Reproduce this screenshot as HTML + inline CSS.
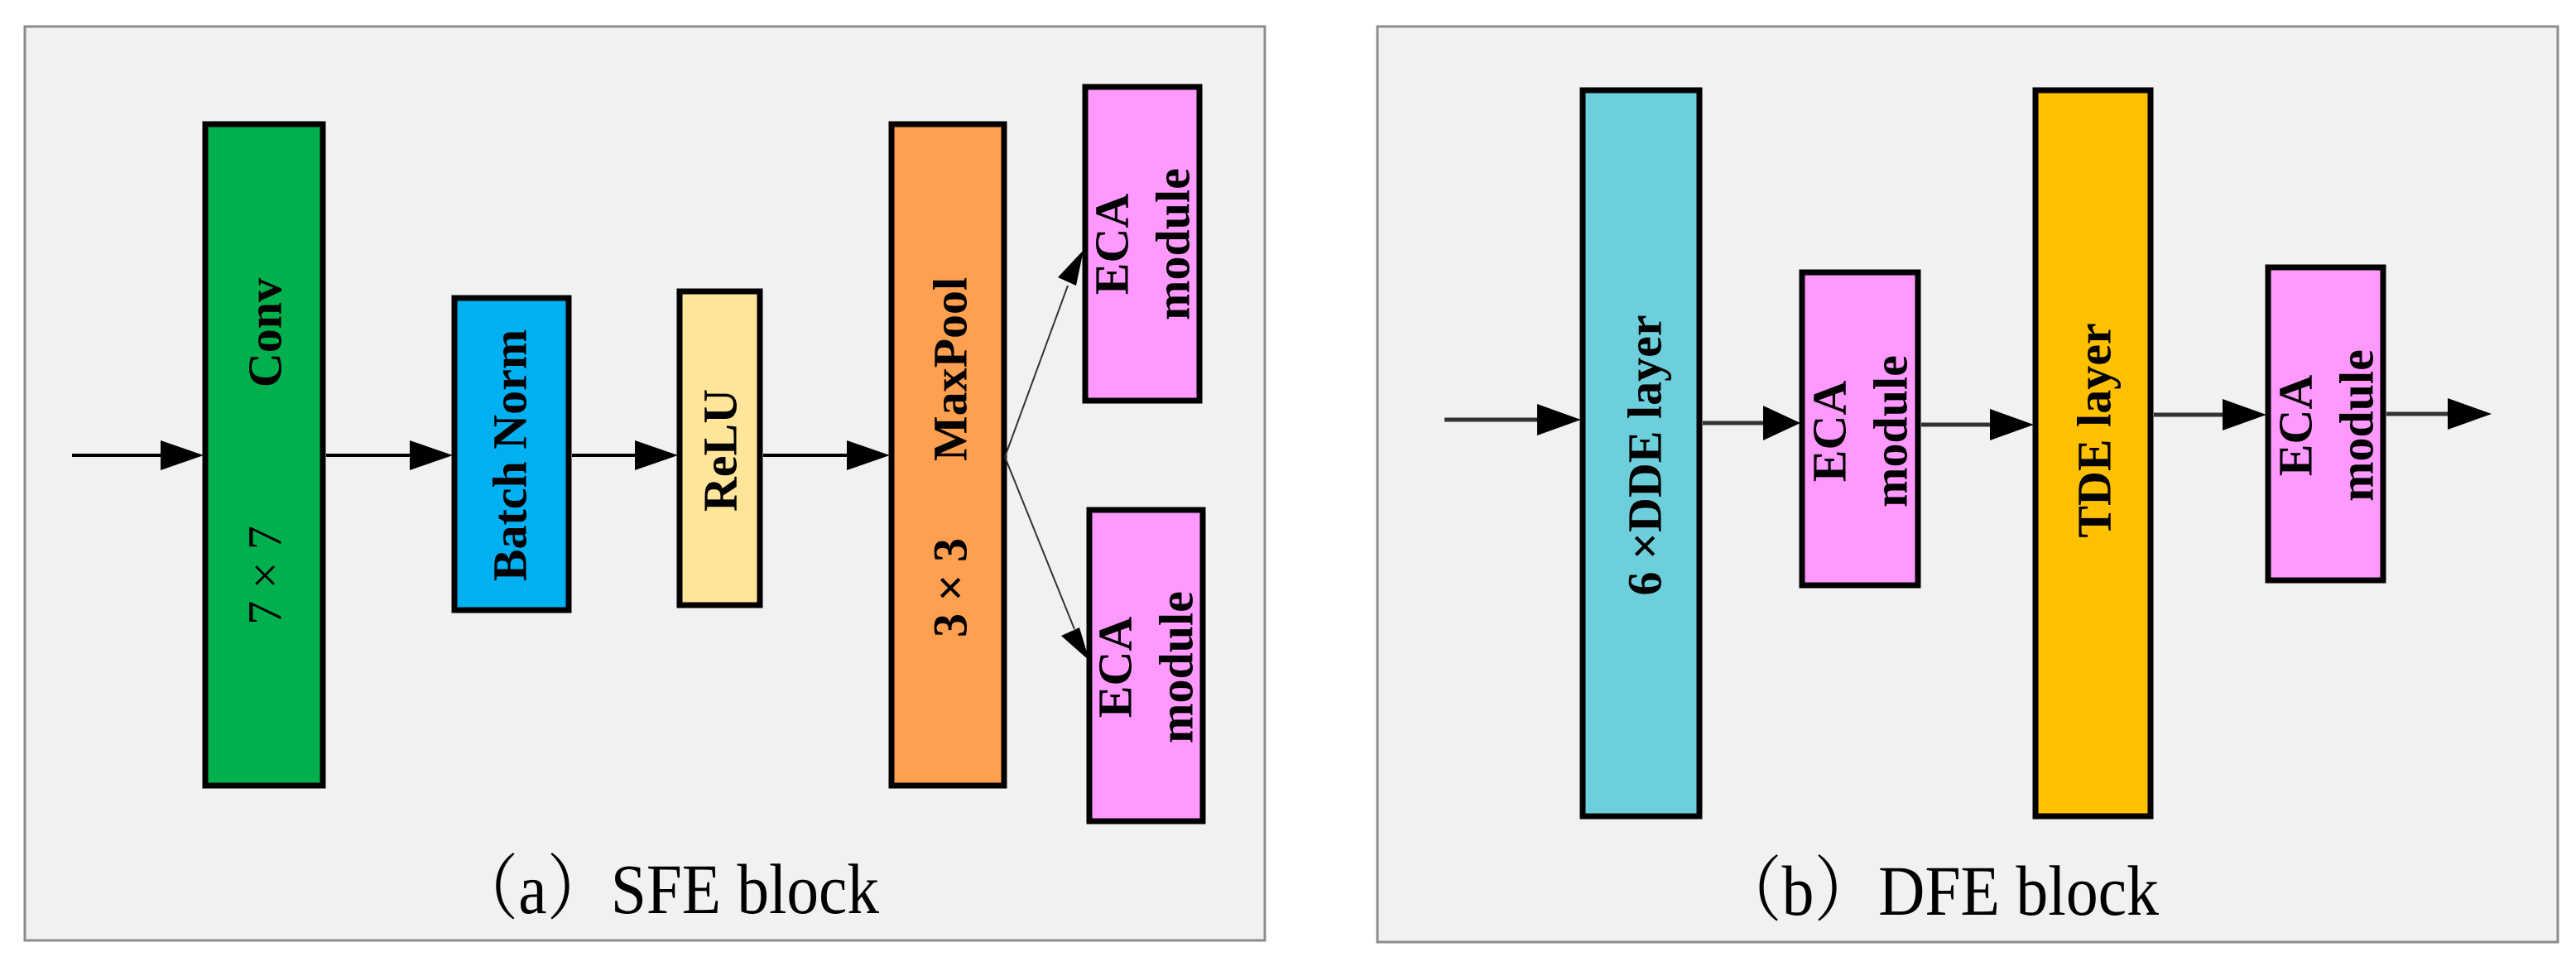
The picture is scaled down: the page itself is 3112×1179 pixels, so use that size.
<!DOCTYPE html>
<html><head><meta charset="utf-8"><style>
html,body{margin:0;padding:0;background:#fff;}
svg{display:block;}
text{font-family:"Liberation Serif","Noto Serif CJK SC",serif;fill:#000;}
.b{font-weight:bold;font-size:58px;}
.cap{font-size:86px;}
</style></head><body>
<svg width="3112" height="1179" viewBox="0 0 3112 1179" xmlns="http://www.w3.org/2000/svg">
<rect x="0" y="0" width="3112" height="1179" fill="#fff"/>
<!-- panels -->
<rect x="30" y="32" width="1498" height="1104" fill="#f1f1f1" stroke="#8c8c8c" stroke-width="3"/>
<rect x="1664" y="32" width="1426" height="1106" fill="#f1f1f1" stroke="#8c8c8c" stroke-width="3"/>

<g stroke="#000" stroke-width="7">
<rect x="248" y="150" width="142" height="799" fill="#00b04c"/>
<rect x="549" y="360" width="138" height="377" fill="#00b0f0"/>
<rect x="821" y="352" width="97" height="379" fill="#ffe59a"/>
<rect x="1077" y="150" width="136" height="799" fill="#ffa050"/>
<rect x="1311" y="105" width="138" height="379" fill="#ff99ff"/>
<rect x="1316" y="616" width="137" height="376" fill="#ff99ff"/>

<rect x="1912" y="109" width="141" height="877" fill="#6ecfdc"/>
<rect x="2177" y="329" width="140" height="378" fill="#ff99ff"/>
<rect x="2459" y="109" width="139" height="877" fill="#ffc000"/>
<rect x="2740" y="323" width="139" height="378" fill="#ff99ff"/>
</g>

<!-- panel a connectors -->
<g stroke="#000" stroke-width="4">
<line x1="87" y1="550" x2="200" y2="550"/>
<line x1="394" y1="550" x2="500" y2="550"/>
<line x1="691" y1="550" x2="775" y2="550"/>
<line x1="922" y1="550" x2="1030" y2="550"/>
</g>
<g fill="#000">
<polygon points="246,550 194,532 194,568"/>
<polygon points="547,550 495,532 495,568"/>
<polygon points="819,550 767,532 767,568"/>
<polygon points="1075,550 1023,532 1023,568"/>
</g>
<g stroke="#333" stroke-width="2" fill="none">
<line x1="1214" y1="552" x2="1290" y2="345"/>
<line x1="1214" y1="552" x2="1298" y2="760"/>
</g>
<polygon points="1309,302 1278,335 1300,345" fill="#000"/>
<polygon points="1316,798 1282,768 1304,758" fill="#000"/>

<!-- panel b connectors -->
<g stroke="#333" stroke-width="5">
<line x1="1745" y1="507" x2="1865" y2="507"/>
<line x1="2057" y1="511" x2="2130" y2="511"/>
<line x1="2321" y1="513" x2="2410" y2="513"/>
<line x1="2602" y1="501" x2="2693" y2="501"/>
<line x1="2883" y1="500" x2="2960" y2="500"/>
</g>
<g fill="#000">
<polygon points="1910,507 1857,488 1857,526"/>
<polygon points="2175,511 2130,490 2130,532"/>
<polygon points="2457,513 2404,494 2404,532"/>
<polygon points="2738,501 2685,482 2685,520"/>
<polygon points="3010,500 2957,481 2957,519"/>
</g>

<!-- panel a labels -->
<text class="b" transform="translate(320,402) rotate(-90)" text-anchor="middle" dominant-baseline="central">Conv</text>
<text class="b" style="font-weight:normal" transform="translate(320,695) rotate(-90)" text-anchor="middle" dominant-baseline="central">7 × 7</text>
<text class="b" transform="translate(616,550) rotate(-90)" text-anchor="middle" dominant-baseline="central">Batch Norm</text>
<text class="b" transform="translate(870,544) rotate(-90)" text-anchor="middle" dominant-baseline="central">ReLU</text>
<text class="b" transform="translate(1148,446) rotate(-90)" text-anchor="middle" dominant-baseline="central">MaxPool</text>
<text class="b" transform="translate(1148,710) rotate(-90)" text-anchor="middle" dominant-baseline="central">3 × 3</text>
<g transform="translate(1380,295) rotate(-90)"><text class="b" y="-37" text-anchor="middle" dominant-baseline="central">ECA</text><text class="b" y="37" text-anchor="middle" dominant-baseline="central">module</text></g>
<g transform="translate(1384,806) rotate(-90)"><text class="b" y="-37" text-anchor="middle" dominant-baseline="central">ECA</text><text class="b" y="37" text-anchor="middle" dominant-baseline="central">module</text></g>

<!-- panel b labels -->
<text class="b" transform="translate(1987,550) rotate(-90)" text-anchor="middle" dominant-baseline="central">6 ×DDE layer</text>
<text class="b" transform="translate(2530,520) rotate(-90)" text-anchor="middle" dominant-baseline="central">TDE layer</text>
<g transform="translate(2247,521) rotate(-90)"><text class="b" y="-37" text-anchor="middle" dominant-baseline="central">ECA</text><text class="b" y="37" text-anchor="middle" dominant-baseline="central">module</text></g>
<g transform="translate(2810,514) rotate(-90)"><text class="b" y="-37" text-anchor="middle" dominant-baseline="central">ECA</text><text class="b" y="37" text-anchor="middle" dominant-baseline="central">module</text></g>

<!-- captions -->
<text class="cap" x="549" y="1103" textLength="513" lengthAdjust="spacingAndGlyphs">（a）SFE block</text>
<text class="cap" x="2075" y="1105" textLength="533" lengthAdjust="spacingAndGlyphs">（b）DFE block</text>
</svg>
</body></html>
